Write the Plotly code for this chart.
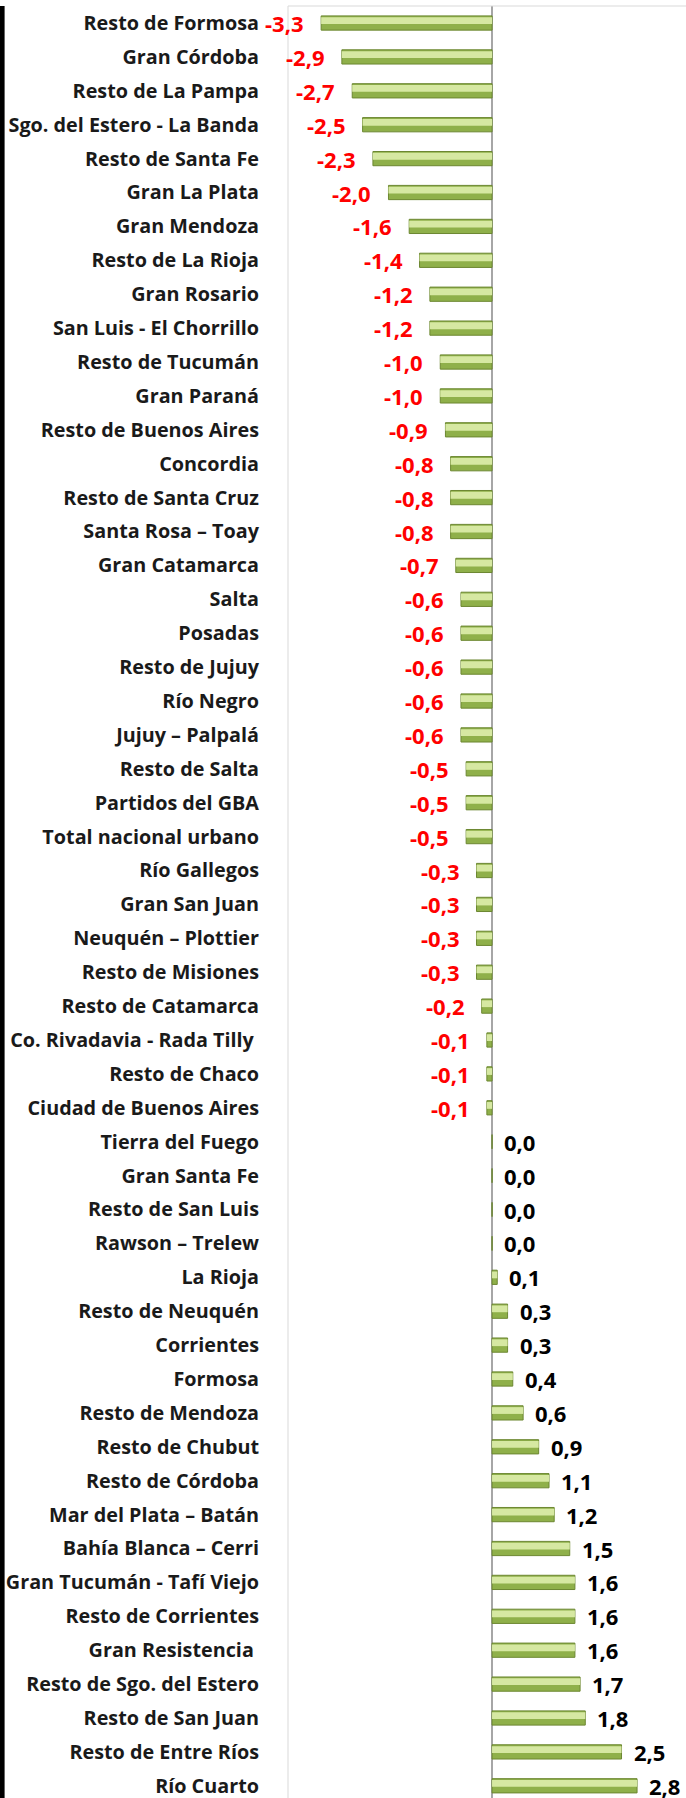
import plotly.graph_objects as go

categories = [
    "Resto de Formosa", "Gran Córdoba", "Resto de La Pampa", "Sgo. del Estero - La Banda",
    "Resto de Santa Fe", "Gran La Plata", "Gran Mendoza", "Resto de La Rioja",
    "Gran Rosario", "San Luis - El Chorrillo", "Resto de Tucumán", "Gran Paraná",
    "Resto de Buenos Aires", "Concordia", "Resto de Santa Cruz", "Santa Rosa – Toay",
    "Gran Catamarca", "Salta", "Posadas", "Resto de Jujuy", "Río Negro", "Jujuy – Palpalá",
    "Resto de Salta", "Partidos del GBA", "Total nacional urbano", "Río Gallegos",
    "Gran San Juan", "Neuquén – Plottier", "Resto de Misiones", "Resto de Catamarca",
    "Co. Rivadavia - Rada Tilly ", "Resto de Chaco", "Ciudad de Buenos Aires",
    "Tierra del Fuego", "Gran Santa Fe", "Resto de San Luis", "Rawson – Trelew",
    "La Rioja", "Resto de Neuquén", "Corrientes", "Formosa", "Resto de Mendoza",
    "Resto de Chubut", "Resto de Córdoba", "Mar del Plata – Batán", "Bahía Blanca – Cerri",
    "Gran Tucumán - Tafí Viejo", "Resto de Corrientes", "Gran Resistencia ",
    "Resto de Sgo. del Estero", "Resto de San Juan", "Resto de Entre Ríos", "Río Cuarto",
]
values = [
    -3.3, -2.9, -2.7, -2.5, -2.3, -2.0, -1.6, -1.4, -1.2, -1.2, -1.0, -1.0, -0.9,
    -0.8, -0.8, -0.8, -0.7, -0.6, -0.6, -0.6, -0.6, -0.6, -0.5, -0.5, -0.5,
    -0.3, -0.3, -0.3, -0.3, -0.2, -0.1, -0.1, -0.1,
    0.0, 0.0, 0.0, 0.0, 0.1, 0.3, 0.3, 0.4, 0.6, 0.9, 1.1, 1.2, 1.5,
    1.6, 1.6, 1.6, 1.7, 1.8, 2.5, 2.8,
]
labels = [f"{v:.1f}".replace(".", ",") for v in values]

W, H = 686, 1798
L, T = 288, 6
FONT = "Open Sans"
XD0 = L / W  # x-domain start (plot area left edge)

fig = go.Figure()
# base bar
fig.add_trace(go.Bar(
    y=categories, x=values, orientation="h",
    width=0.42, offset=-0.21,
    marker=dict(color="#8fb04a", line=dict(color="#6c8731", width=1)),
    hoverinfo="skip", showlegend=False,
))
# highlight (bevel) band
fig.add_trace(go.Bar(
    y=categories, x=values, orientation="h",
    width=0.2, offset=-0.17,
    marker=dict(color="#d6e8a2", line=dict(width=0)),
    hoverinfo="skip", showlegend=False,
))

annotations = []
for c, v, t in zip(categories, values, labels):
    neg = v < 0
    annotations.append(dict(
        x=v, y=c, xref="x", yref="y", text=f"<b>{t}</b>", showarrow=False,
        xanchor="right" if neg else "left", xshift=-15 if neg else 10,
        font=dict(family=FONT, size=22, color="#ff0000" if neg else "#000000"),
    ))

shapes = [
    # thick black frame at left
    dict(type="rect", xref="paper", yref="paper",
         x0=0, x1=4.6 / W, y0=0, y1=1,
         fillcolor="#000000", line=dict(width=0), layer="above"),
    # plot-area border (left & top)
    dict(type="line", xref="paper", yref="paper", x0=XD0, x1=XD0, y0=0, y1=1,
         line=dict(color="#d9d9d9", width=1)),
    dict(type="line", xref="paper", yref="paper", x0=XD0, x1=1, y0=1, y1=1,
         line=dict(color="#d9d9d9", width=1)),
]

fig.update_layout(
    width=W, height=H,
    margin=dict(l=0, r=0, t=T, b=0, autoexpand=False),
    paper_bgcolor="white", plot_bgcolor="white",
    barmode="overlay",
    annotations=annotations,
    shapes=shapes,
    xaxis=dict(domain=[XD0, 1], range=[-3.94, 3.745], showgrid=False, showticklabels=False,
               zeroline=True, zerolinecolor="#a6a6a6", zerolinewidth=1.5,
               showline=False, fixedrange=True, automargin=False),
    yaxis=dict(type="category", categoryorder="array", categoryarray=categories,
               range=[52.36, -0.502], showgrid=False, zeroline=False,
               showline=False, ticks="", ticklabelstandoff=28,
               tickfont=dict(family=FONT, size=19.8, color="#1a1a1a"),
               fixedrange=True, automargin=False),
    font=dict(family=FONT),
)
fig.update_yaxes(ticktext=[f"<b>{c}</b>" for c in categories], tickvals=categories)

fig.write_html(
    "out.html",
    config={"displayModeBar": False},
    post_script="document.body.style.margin='0px';",
)
